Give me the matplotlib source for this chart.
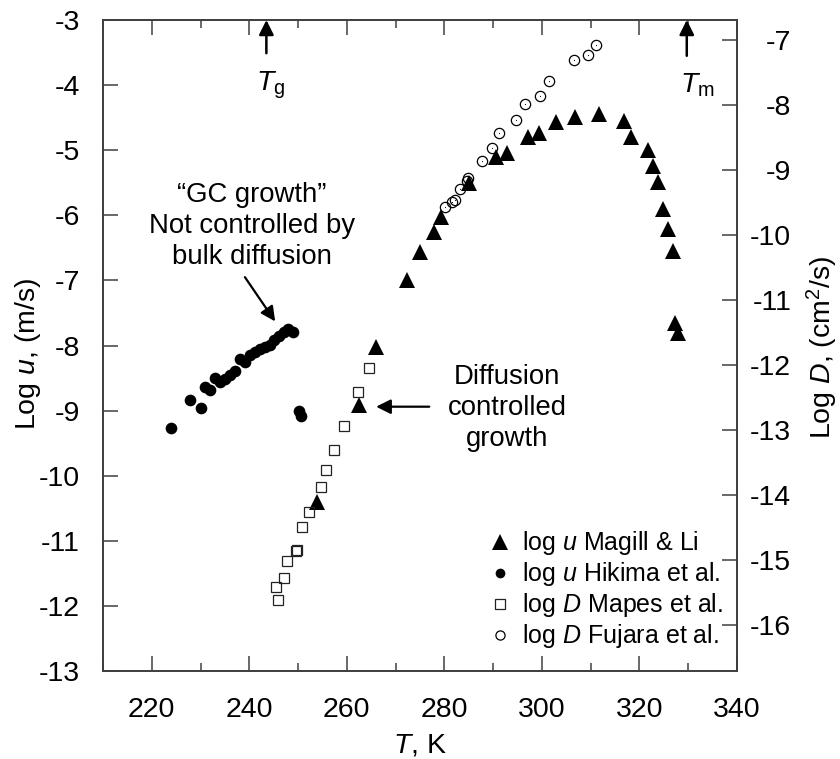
import matplotlib
matplotlib.use("Agg")
import matplotlib.pyplot as plt
from matplotlib.lines import Line2D
from matplotlib.ticker import MultipleLocator

plt.rcParams['font.family'] = ['Liberation Sans', 'DejaVu Sans']
plt.rcParams['mathtext.fontset'] = 'custom'
plt.rcParams['mathtext.rm'] = 'Liberation Sans'
plt.rcParams['mathtext.it'] = 'Liberation Sans:italic'
plt.rcParams['mathtext.bf'] = 'Liberation Sans:bold'

# crystal growth rate, Magill & Li  (log u, m/s)
T_magill = [253.9, 262.4, 266.0, 272.4, 274.9, 277.8, 279.4, 285.0, 290.5, 292.8,
            297.1, 299.5, 302.8, 306.7, 311.8, 316.9, 318.3, 321.8, 322.8, 323.8,
            324.9, 325.8, 326.8, 327.3, 327.85]
u_magill = [-10.41, -8.91, -8.02, -7.00, -6.56, -6.25, -6.02, -5.50, -5.10, -5.05,
            -4.80, -4.74, -4.57, -4.49, -4.44, -4.55, -4.80, -5.00, -5.24, -5.49,
            -5.90, -6.21, -6.55, -7.65, -7.81]

# growth rate, Hikima et al.  (log u, m/s)
T_hikima = [223.9, 227.8, 230.0, 231.0, 231.9, 232.9, 234.0, 235.0, 236.1, 237.0,
            238.0, 239.2, 240.1, 241.1, 242.1, 243.2, 244.2, 245.0, 246.0, 247.1,
            247.9, 249.0, 250.1, 250.5]
u_hikima = [-9.26, -8.84, -8.96, -8.64, -8.69, -8.50, -8.56, -8.51, -8.45, -8.39,
            -8.21, -8.25, -8.15, -8.10, -8.06, -8.02, -7.99, -7.92, -7.85, -7.80,
            -7.74, -7.79, -9.00, -9.09]

# diffusion coefficient, Mapes et al.  (log D, cm^2/s)
T_mapes = [245.8, 245.5, 247.2, 247.7, 249.5, 249.8, 250.8, 252.3, 254.8, 255.8,
           257.3, 259.5, 262.3, 264.5]
D_mapes = [-15.61, -15.41, -15.27, -15.01, -14.86, -14.84, -14.49, -14.25, -13.87,
           -13.62, -13.31, -12.93, -12.41, -12.05]

# diffusion coefficient, Fujara et al.  (log D, cm^2/s)
T_fujara = [280.1, 281.5, 282.2, 283.3, 284.7, 284.8, 287.7, 289.7, 291.1, 294.6,
            296.6, 299.6, 301.5, 306.5, 309.5, 311.1]
D_fujara = [-9.58, -9.49, -9.46, -9.29, -9.18, -9.12, -8.87, -8.66, -8.43, -8.24,
            -7.99, -7.86, -7.63, -7.31, -7.23, -7.08]

T_g = 243.5
T_m = 329.7

labels = ['log $u$ Magill & Li', 'log $u$ Hikima et al.',
          'log $D$ Mapes et al.', 'log $D$ Fujara et al.']

spine_c = '#404040'

fig = plt.figure(figsize=(8.4, 7.59), dpi=100)
ax = fig.add_axes([103/840, 88/759, 634/840, 651/759])
ax2 = ax.twinx()

ax.plot(T_magill, u_magill, '^', color='k', ms=11.8, mew=0, zorder=3)
ax.plot(T_hikima, u_hikima, 'o', color='k', ms=8.4, mew=0, zorder=3)
ax2.plot(T_mapes, D_mapes, 's', mfc='none', mec='#222222', ms=7.6, mew=0.9)
ax2.plot(T_fujara, D_fujara, 'o', mfc='none', mec='k', ms=7.4, mew=0.9)
ax2.plot(T_fujara, D_fujara, '.', color='k', ms=1.6, mew=0)

ax.set_xlim(210, 340)
ax.set_ylim(-13, -3)
ax2.set_ylim(-16.7, -6.7)

ax.xaxis.set_major_locator(MultipleLocator(20))
ax.xaxis.set_minor_locator(MultipleLocator(10))
ax.set_yticks(range(-13, -2))
ax2.set_yticks(range(-16, -6))

ax.tick_params(axis='x', which='both', direction='in', top=True, color=spine_c,
               labelsize=20.5, pad=19)
ax.tick_params(axis='x', which='major', length=11, width=1.1)
ax.tick_params(axis='x', which='minor', length=5.5, width=1.1)
ax.tick_params(axis='y', direction='in', length=11, width=1.1, color=spine_c,
               labelsize=20.5, pad=16.5)
ax2.tick_params(axis='y', direction='in', length=11, width=1.1, color=spine_c,
                labelsize=20.5, pad=39)
ax.set_yticklabels([str(v) for v in range(-13, -2)])
ax2.set_yticklabels([str(v) for v in range(-16, -6)])
plt.setp(ax2.get_yticklabels(), ha='right')

for a in (ax, ax2):
    for s in a.spines.values():
        s.set_color(spine_c)
        s.set_linewidth(1.3)

# Tg / Tm markers along the top edge
arrow_kw = dict(arrowstyle='-|>', color='k', lw=1.8, mutation_scale=22,
                shrinkA=0, shrinkB=0)
ax.annotate('', xy=(T_g, -3.0), xytext=(T_g, -3.51), arrowprops=arrow_kw,
            annotation_clip=False)
ax.annotate('', xy=(T_m, -3.0), xytext=(T_m, -3.55), arrowprops=arrow_kw,
            annotation_clip=False)
ax.text(244.4, -4.0, r'$T_\mathrm{g}$', fontsize=20.5, ha='center', va='center')
ax.text(331.8, -4.0, r'$T_\mathrm{m}$', fontsize=20.5, ha='center', va='center')

ax.text(240.5, -6.16, '\u201cGC growth\u201d\nNot controlled by\nbulk diffusion',
        fontsize=19.8, ha='center', va='center', linespacing=1.25)
ax.annotate('', xy=(245.3, -7.63), xytext=(239.1, -6.95),
            arrowprops=dict(arrow_kw, lw=1.6))

ax.text(292.9, -8.96, 'Diffusion\ncontrolled\ngrowth',
        fontsize=19.8, ha='center', va='center', linespacing=1.25)
ax.annotate('', xy=(266.0, -8.94), xytext=(276.9, -8.94),
            arrowprops=dict(arrow_kw, lw=1.6))

handles = [
    Line2D([], [], ls='none', marker='^', color='k', ms=12, mew=0),
    Line2D([], [], ls='none', marker='o', color='k', ms=7, mew=0),
    Line2D([], [], ls='none', marker='s', mfc='none', mec='#222222', ms=6.8, mew=0.9),
    Line2D([], [], ls='none', marker='o', mfc='none', mec='k', ms=6.6, mew=0.9),
]
ax2.legend(handles, labels, loc='center left', bbox_to_anchor=(0.6065, 0.1245),
           frameon=False, fontsize=18, handlelength=1.0, handletextpad=0.38,
           borderpad=0, borderaxespad=0, labelspacing=0.12)

fig.text(28/840, 1 - 354/759, 'Log $u$, (m/s)', fontsize=20.5, rotation=90,
         ha='center', va='center')
fig.text(822/840, 1 - 347/759, 'Log $D$, (cm$^2$/s)', fontsize=20.5, rotation=90,
         ha='center', va='center')
fig.text(420/840, 1 - 745/759, '$T$, K', fontsize=20.5, ha='center', va='center')

fig.savefig('out.png', dpi=100)
